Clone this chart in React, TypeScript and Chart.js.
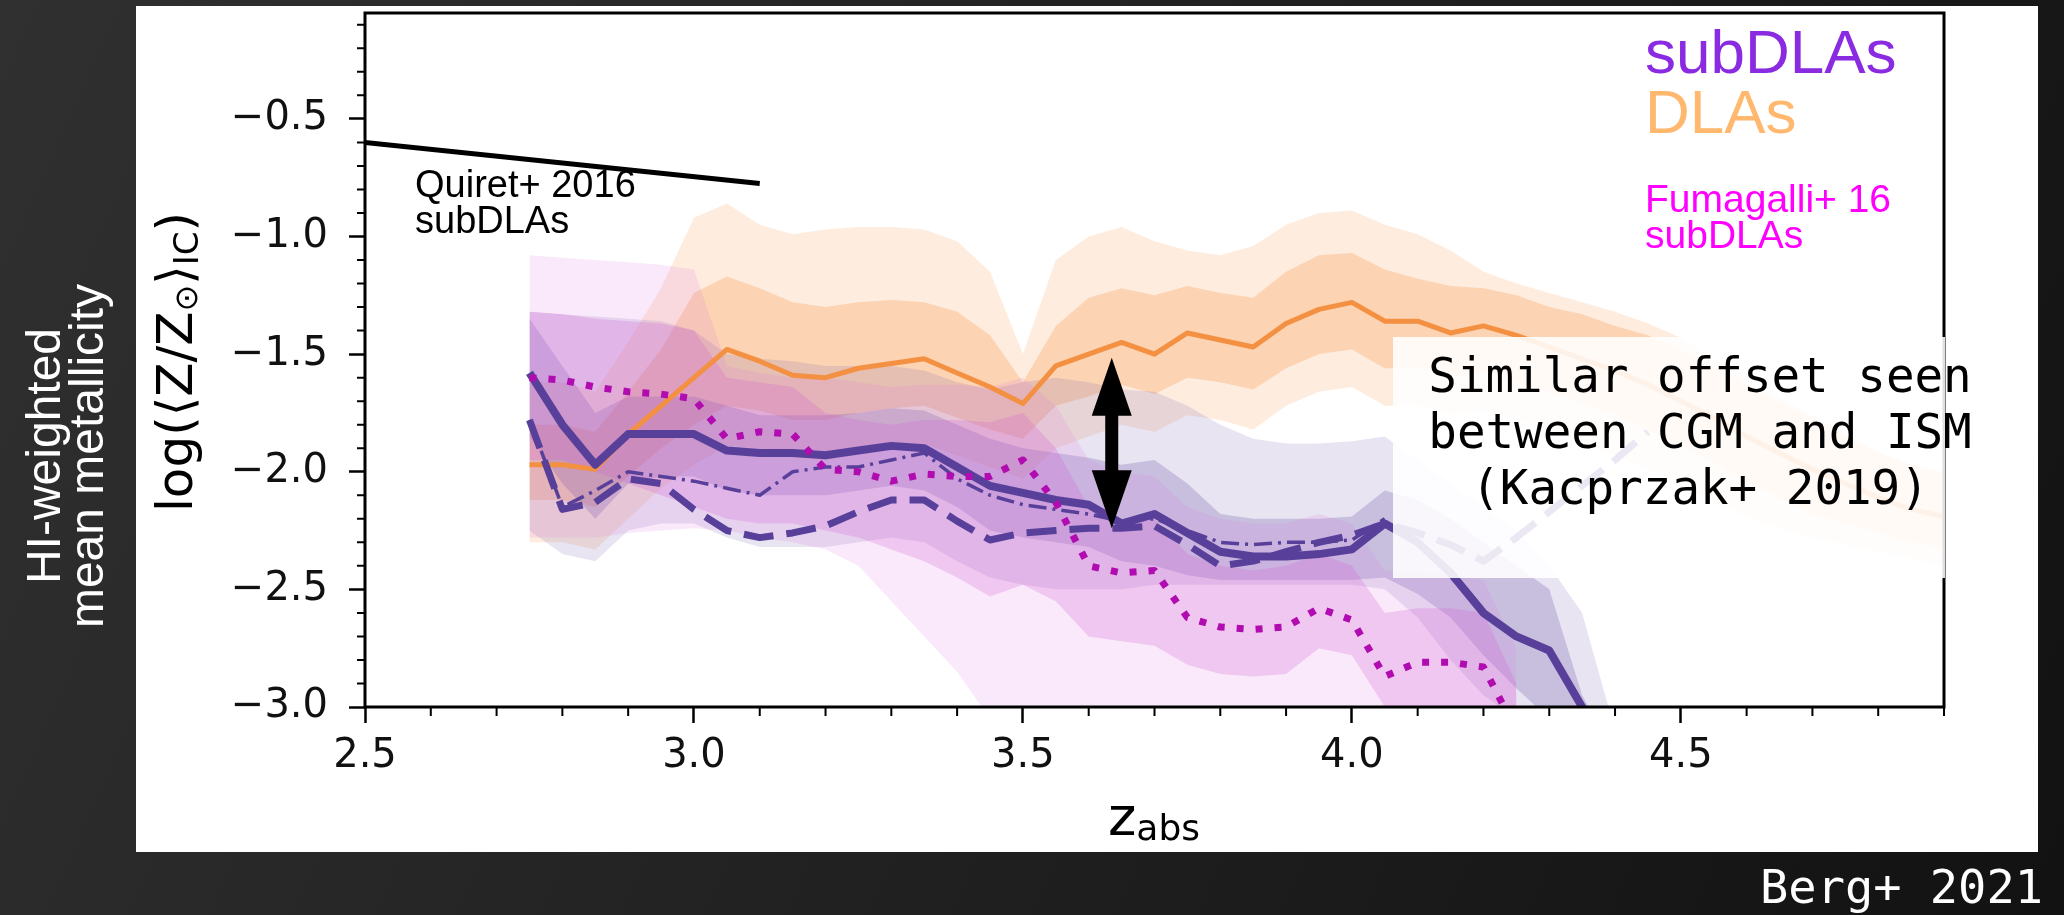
import React, { useEffect, useRef } from 'react';
import { Chart, registerables } from 'chart.js';

Chart.register(...registerables);

const W = 2064;
const H = 915;

// redshift grid (z_abs)
const Z = [2.75, 2.80, 2.85, 2.90, 2.95, 3.00, 3.05, 3.10, 3.15, 3.20, 3.25, 3.30, 3.35, 3.40, 3.45, 3.50, 3.55, 3.60, 3.65, 3.70, 3.75, 3.80, 3.85, 3.90, 3.95, 4.00, 4.05, 4.10, 4.15, 4.20, 4.25, 4.30, 4.35, 4.40, 4.45, 4.50, 4.55, 4.60, 4.65, 4.70, 4.75, 4.80, 4.85, 4.90];

// DLAs (orange)
const DLA_LINE = [-1.97, -1.97, -1.99, -1.84, -1.72, -1.60, -1.48, -1.53, -1.59, -1.60, -1.56, -1.54, -1.52, -1.58, -1.64, -1.71, -1.55, -1.50, -1.45, -1.50, -1.41, -1.44, -1.47, -1.37, -1.31, -1.28, -1.36, -1.36, -1.41, -1.38, -1.42, -1.47, -1.52, -1.57, -1.63, -1.70, -1.77, -1.85, -1.92, -1.99, -2.05, -2.11, -2.16, -2.19];
const DLA_IN_HI = [-1.80, -1.80, -1.83, -1.66, -1.48, -1.24, -1.17, -1.22, -1.28, -1.30, -1.28, -1.27, -1.28, -1.32, -1.42, -1.62, -1.38, -1.26, -1.22, -1.25, -1.21, -1.24, -1.26, -1.15, -1.08, -1.07, -1.14, -1.18, -1.21, -1.22, -1.25, -1.30, -1.33, -1.38, -1.42, -1.48, -1.55, -1.63, -1.70, -1.77, -1.85, -1.92, -1.97, -2.00];
const DLA_IN_LO = [-2.12, -2.12, -2.15, -2.02, -1.90, -1.80, -1.72, -1.74, -1.78, -1.78, -1.75, -1.73, -1.72, -1.77, -1.82, -1.86, -1.72, -1.68, -1.63, -1.67, -1.60, -1.62, -1.65, -1.56, -1.50, -1.48, -1.56, -1.56, -1.60, -1.58, -1.62, -1.66, -1.71, -1.76, -1.82, -1.89, -1.96, -2.04, -2.11, -2.18, -2.22, -2.26, -2.30, -2.32];
const DLA_OUT_HI = [-1.62, -1.62, -1.66, -1.45, -1.22, -0.92, -0.86, -0.95, -0.99, -0.97, -0.96, -0.96, -0.97, -1.02, -1.15, -1.50, -1.10, -1.00, -0.96, -1.02, -1.06, -1.08, -1.04, -0.95, -0.90, -0.89, -0.95, -0.99, -1.06, -1.15, -1.20, -1.24, -1.28, -1.32, -1.37, -1.43, -1.52, -1.60, -1.68, -1.76, -1.84, -1.91, -1.97, -2.01];
const DLA_OUT_LO = [-2.30, -2.30, -2.33, -2.20, -2.07, -1.97, -1.89, -1.90, -1.94, -1.95, -1.92, -1.90, -1.88, -1.93, -1.98, -2.03, -1.90, -1.85, -1.80, -1.83, -1.76, -1.78, -1.82, -1.72, -1.66, -1.64, -1.72, -1.72, -1.76, -1.74, -1.78, -1.83, -1.88, -1.93, -1.99, -2.06, -2.13, -2.19, -2.24, -2.28, -2.31, -2.34, -2.37, -2.40];

// subDLAs (purple)
const SUB_SOLID = [-1.58, -1.80, -1.97, -1.84, -1.84, -1.84, -1.91, -1.92, -1.92, -1.93, -1.91, -1.89, -1.90, -1.98, -2.06, -2.09, -2.12, -2.14, -2.22, -2.18, -2.26, -2.34, -2.36, -2.36, -2.35, -2.33, -2.22, -2.30, -2.43, -2.60, -2.70, -2.76, -3.00, -3.25, null, null, null, null, null, null, null, null, null, null];
const SUB_DASHED = [-1.78, -2.16, -2.13, -2.03, -2.05, -2.16, -2.25, -2.28, -2.26, -2.23, -2.17, -2.12, -2.12, -2.21, -2.29, -2.26, -2.25, -2.24, -2.24, -2.23, -2.31, -2.40, -2.38, -2.34, -2.30, -2.27, -2.22, -2.26, -2.31, -2.38, -2.28, -2.17, -2.06, -1.95, -1.83, null, null, null, null, null, null, null, null, null];
const SUB_DASHDOT = [-1.78, -2.15, -2.08, -2.00, -2.02, -2.04, -2.07, -2.10, -2.00, -1.98, -1.98, -1.95, -1.92, -2.03, -2.10, -2.14, -2.16, -2.18, -2.21, -2.20, -2.25, -2.30, -2.31, -2.30, -2.30, -2.29, -2.20, null, null, null, null, null, null, null, null, null, null, null, null, null, null, null, null, null];
const SUB_IN_HI = [-1.35, -1.55, -1.75, -1.68, -1.68, -1.68, -1.72, -1.76, -1.76, -1.76, -1.75, -1.73, -1.74, -1.80, -1.86, -1.90, -1.92, -1.94, -1.97, -1.95, -2.05, -2.18, -2.20, -2.20, -2.20, -2.19, -2.08, -2.12, -2.20, -2.30, -2.40, -2.50, -2.95, -3.20, null, null, null, null, null, null, null, null, null, null];
const SUB_IN_LO = [-1.85, -2.05, -2.20, -2.05, -2.02, -2.02, -2.08, -2.10, -2.10, -2.10, -2.08, -2.06, -2.08, -2.15, -2.25, -2.28, -2.30, -2.32, -2.38, -2.40, -2.44, -2.46, -2.46, -2.46, -2.46, -2.46, -2.45, -2.52, -2.62, -2.78, -2.92, -3.05, -3.20, -3.40, null, null, null, null, null, null, null, null, null, null];
const SUB_OUT_HI = [-1.32, -1.33, -1.34, -1.35, -1.36, -1.40, -1.50, -1.52, -1.53, -1.55, -1.55, -1.55, -1.57, -1.62, -1.65, -1.62, -1.60, -1.62, -1.65, -1.66, -1.72, -1.80, -1.86, -1.88, -1.88, -1.87, -1.85, -1.95, -2.05, -2.15, -2.25, -2.40, -2.60, -3.10, -3.30, null, null, null, null, null, null, null, null, null];
const SUB_OUT_LO = [-2.25, -2.35, -2.38, -2.25, -2.22, -2.22, -2.28, -2.32, -2.32, -2.32, -2.30, -2.28, -2.30, -2.38, -2.45, -2.48, -2.50, -2.50, -2.50, -2.48, -2.48, -2.48, -2.48, -2.48, -2.48, -2.48, -2.50, -2.62, -2.80, -2.95, -3.05, -3.15, -3.30, -3.40, -3.50, null, null, null, null, null, null, null, null, null];

// Fumagalli+16 subDLAs (magenta)
const FUM_DOTTED = [-1.60, -1.61, -1.64, -1.66, -1.67, -1.69, -1.86, -1.83, -1.84, -1.99, -2.00, -2.04, -2.01, -2.02, -2.02, -1.95, -2.13, -2.40, -2.43, -2.42, -2.62, -2.66, -2.67, -2.66, -2.58, -2.63, -2.87, -2.81, -2.81, -2.83, -3.10, null, null, null, null, null, null, null, null, null, null, null, null, null];
const FUM_IN_HI = [-1.32, -1.33, -1.35, -1.36, -1.37, -1.40, -1.60, -1.62, -1.64, -1.75, -1.78, -1.80, -1.78, -1.78, -1.79, -1.75, -1.90, -2.15, -2.20, -2.20, -2.35, -2.40, -2.42, -2.40, -2.35, -2.40, -2.60, -2.58, -2.58, -2.60, -2.90, null, null, null, null, null, null, null, null, null, null, null, null, null];
const FUM_IN_LO = [-1.95, -1.95, -2.00, -2.05, -2.10, -2.15, -2.20, -2.22, -2.22, -2.25, -2.28, -2.33, -2.38, -2.45, -2.53, -2.48, -2.55, -2.70, -2.72, -2.74, -2.82, -2.86, -2.87, -2.86, -2.75, -2.78, -3.00, -3.05, -3.05, -3.08, -3.30, null, null, null, null, null, null, null, null, null, null, null, null, null];
const FUM_OUT_HI = [-1.08, -1.09, -1.10, -1.11, -1.12, -1.14, -1.55, -1.58, -1.60, -1.60, -1.62, -1.64, -1.63, -1.63, -1.64, -1.60, -1.72, -1.95, -2.00, -2.02, -2.15, -2.20, -2.22, -2.22, -2.18, -2.22, -2.42, -2.42, -2.44, -2.46, -2.75, null, null, null, null, null, null, null, null, null, null, null, null, null];
const FUM_OUT_LO = [-2.28, -2.28, -2.28, -2.26, -2.25, -2.24, -2.25, -2.28, -2.30, -2.33, -2.40, -2.55, -2.70, -2.85, -3.05, -3.10, -3.10, -3.10, -3.10, -3.10, -3.10, -3.10, -3.10, -3.10, -3.10, -3.10, -3.10, -3.10, -3.10, -3.10, -3.20, null, null, null, null, null, null, null, null, null, null, null, null, null];

// Quiret+2016 subDLAs relation
const QUIRET_Z = [2.5, 3.10];
const QUIRET_V = [-0.60, -0.775];

// double arrow (data coordinates)
const ARROW_Z = 3.635;
const ARROW_TOP = -1.515;
const ARROW_BOTTOM = -2.24;

// ticks
const X_MAJOR = [2.5, 3.0, 3.5, 4.0, 4.5];
const X_MINOR = [2.6, 2.7, 2.8, 2.9, 3.1, 3.2, 3.3, 3.4, 3.6, 3.7, 3.8, 3.9, 4.1, 4.2, 4.3, 4.4, 4.6, 4.7, 4.8, 4.9];
const Y_MAJOR = [-3.0, -2.5, -2.0, -1.5, -1.0, -0.5];
const Y_MINOR = [-2.9, -2.8, -2.7, -2.6, -2.4, -2.3, -2.2, -2.1, -1.9, -1.8, -1.7, -1.6, -1.4, -1.3, -1.2, -1.1, -0.9, -0.8, -0.7, -0.6, -0.4, -0.3, -0.2, -0.1];

const NOTE_LINES = ['Similar offset seen', 'between CGM and ISM', '(Kacprzak+ 2019)'];
const SIDE_LINES = ['HI-weighted', 'mean metallicity'];

const SANS = "'Liberation Sans', Arial, sans-serif";
const DV = "'DejaVu Sans', sans-serif";
const MONO = "'DejaVu Sans Mono', monospace";

const pts = (arr: (number | null)[]) =>
  Z.map((x, i) => ({ x, y: arr[i] })).filter((p) => p.y !== null);

const lineDs = (data: (number | null)[], color: string, width: number, dash: number[], order: number) => ({
  data: pts(data),
  borderColor: color,
  borderWidth: width,
  borderDash: dash,
  borderCapStyle: 'butt',
  borderJoinStyle: 'round',
  pointRadius: 0,
  fill: false,
  tension: 0,
  order,
  clip: 0,
});
const bandLo = (data: (number | null)[], order: number) => ({
  data: pts(data),
  borderWidth: 0,
  borderColor: 'rgba(0,0,0,0)',
  pointRadius: 0,
  fill: false,
  order,
  clip: 0,
});
const bandHi = (data: (number | null)[], color: string, order: number) => ({
  data: pts(data),
  borderWidth: 0,
  borderColor: 'rgba(0,0,0,0)',
  backgroundColor: color,
  pointRadius: 0,
  fill: '-1',
  order,
  clip: 0,
});

const fmt = (v: number) => v.toFixed(1).replace('-', '\u2212');

const deco = {
  id: 'deco',
  beforeDraw(chart: any) {
    const { ctx } = chart;
    ctx.save();
    const g = ctx.createLinearGradient(0, 0, W, H);
    g.addColorStop(0, '#303030');
    g.addColorStop(1, '#121212');
    ctx.fillStyle = g;
    ctx.fillRect(0, 0, W, H);
    ctx.fillStyle = '#ffffff';
    ctx.fillRect(136, 6, 1902, 846);
    ctx.restore();
  },
  afterDatasetsDraw(chart: any) {
    const { ctx, chartArea: a, scales } = chart;
    const xs = scales.x;
    const ys = scales.y;
    ctx.save();
    ctx.strokeStyle = '#000';
    ctx.lineWidth = 2;
    ctx.beginPath();
    for (const v of X_MINOR) {
      const px = xs.getPixelForValue(v);
      ctx.moveTo(px, a.bottom);
      ctx.lineTo(px, a.bottom + 9);
    }
    for (const v of Y_MINOR) {
      const py = ys.getPixelForValue(v);
      ctx.moveTo(a.left - 8, py);
      ctx.lineTo(a.left, py);
    }
    ctx.stroke();
    ctx.lineWidth = 3;
    ctx.strokeRect(a.left, a.top, a.right - a.left, a.bottom - a.top);
    ctx.restore();
  },
  afterDraw(chart: any) {
    const { ctx, scales } = chart;
    const xs = scales.x;
    const ys = scales.y;
    ctx.save();

    // y-axis title (rotated)
    ctx.save();
    ctx.translate(192, 362);
    ctx.rotate(-Math.PI / 2);
    ctx.fillStyle = '#000';
    ctx.textBaseline = 'alphabetic';
    const parts = [
      { t: 'log(\u27E8Z/Z', f: 50, dy: 0 },
      { t: '\u2299', f: 32, dy: 5 },
      { t: '\u27E9', f: 50, dy: 0 },
      { t: 'IC', f: 34, dy: 6 },
      { t: ')', f: 50, dy: 0 },
    ];
    let total = 0;
    for (const p of parts) {
      ctx.font = `${p.f}px ${DV}`;
      total += ctx.measureText(p.t).width;
    }
    let cx = -total / 2;
    for (const p of parts) {
      ctx.font = `${p.f}px ${DV}`;
      ctx.fillText(p.t, cx, p.dy);
      cx += ctx.measureText(p.t).width;
    }
    ctx.restore();

    // x-axis title
    ctx.fillStyle = '#000';
    ctx.textAlign = 'left';
    ctx.textBaseline = 'alphabetic';
    ctx.font = `54px ${DV}`;
    ctx.fillText('z', 1108, 835);
    const zw = ctx.measureText('z').width;
    ctx.font = `36px ${DV}`;
    ctx.fillText('abs', 1108 + zw, 840);

    // Quiret label
    ctx.font = `38px ${SANS}`;
    ctx.fillText('Quiret+ 2016', 415, 197);
    ctx.fillText('subDLAs', 415, 233);

    // legend-like labels
    ctx.font = `62px ${SANS}`;
    ctx.fillStyle = '#8a2be2';
    ctx.fillText('subDLAs', 1645, 73);
    ctx.fillStyle = '#ffb86e';
    ctx.fillText('DLAs', 1645, 133);
    ctx.font = `39px ${SANS}`;
    ctx.fillStyle = '#ff00ff';
    ctx.fillText('Fumagalli+ 16', 1645, 212);
    ctx.fillText('subDLAs', 1645, 248);

    // note box
    ctx.fillStyle = 'rgba(255,255,255,0.88)';
    ctx.fillRect(1393, 337, 552, 241);
    ctx.fillStyle = '#000';
    ctx.font = `47.5px ${MONO}`;
    ctx.textAlign = 'center';
    NOTE_LINES.forEach((s, i) => ctx.fillText(s, 1700, 392 + i * 56));

    // double arrow
    const ax = xs.getPixelForValue(ARROW_Z);
    const y1 = ys.getPixelForValue(ARROW_TOP);
    const y2 = ys.getPixelForValue(ARROW_BOTTOM);
    const hl = 58;
    const hw = 20;
    ctx.fillStyle = '#000';
    ctx.fillRect(ax - 6.5, y1 + hl - 2, 13, y2 - y1 - 2 * hl + 4);
    ctx.beginPath();
    ctx.moveTo(ax, y1);
    ctx.lineTo(ax + hw, y1 + hl);
    ctx.lineTo(ax - hw, y1 + hl);
    ctx.closePath();
    ctx.fill();
    ctx.beginPath();
    ctx.moveTo(ax, y2);
    ctx.lineTo(ax + hw, y2 - hl);
    ctx.lineTo(ax - hw, y2 - hl);
    ctx.closePath();
    ctx.fill();

    // left side white text
    ctx.save();
    ctx.fillStyle = '#ffffff';
    ctx.font = `48px ${SANS}`;
    ctx.textAlign = 'center';
    ctx.translate(60, 456);
    ctx.rotate(-Math.PI / 2);
    ctx.fillText(SIDE_LINES[0], 0, 0);
    ctx.fillText(SIDE_LINES[1], 0, 43);
    ctx.restore();

    // credit
    ctx.fillStyle = '#ffffff';
    ctx.font = `47px ${MONO}`;
    ctx.textAlign = 'right';
    ctx.fillText('Berg+ 2021', 2043, 903);

    ctx.restore();
  },
};

export default function App() {
  const ref = useRef<HTMLCanvasElement>(null);
  useEffect(() => {
    document.body.style.margin = '0';
    const datasets: any[] = [
      lineDs(FUM_DOTTED, '#b00cb0', 7, [7, 12], 1),
      lineDs(SUB_SOLID, '#58409a', 8, [], 2),
      lineDs(SUB_DASHED, '#58409a', 7, [30, 13], 2),
      lineDs(SUB_DASHDOT, '#58409a', 3.5, [18, 6, 3, 6], 2),
      lineDs(DLA_LINE, '#f39042', 5, [], 3),
      {
        data: QUIRET_Z.map((x, i) => ({ x, y: QUIRET_V[i] })),
        borderColor: '#000',
        borderWidth: 5,
        pointRadius: 0,
        fill: false,
        order: 3,
        clip: 0,
      },
      bandLo(DLA_OUT_LO, 20),
      bandHi(DLA_OUT_HI, 'rgba(250,160,90,0.20)', 20),
      bandLo(DLA_IN_LO, 19),
      bandHi(DLA_IN_HI, 'rgba(250,160,90,0.32)', 19),
      bandLo(SUB_OUT_LO, 18),
      bandHi(SUB_OUT_HI, 'rgba(120,95,175,0.17)', 18),
      bandLo(SUB_IN_LO, 17),
      bandHi(SUB_IN_HI, 'rgba(110,85,170,0.26)', 17),
      bandLo(FUM_OUT_LO, 16),
      bandHi(FUM_OUT_HI, 'rgba(225,120,225,0.16)', 16),
      bandLo(FUM_IN_LO, 15),
      bandHi(FUM_IN_HI, 'rgba(210,90,210,0.24)', 15),
    ];
    const chart = new Chart(ref.current as HTMLCanvasElement, {
      type: 'line',
      data: { datasets },
      options: {
        responsive: false,
        animation: false,
        devicePixelRatio: 1,
        layout: { autoPadding: false, padding: { left: 0, right: 120, top: 13, bottom: 0 } },
        plugins: { legend: { display: false }, tooltip: { enabled: false } },
        scales: {
          x: {
            type: 'linear',
            min: 2.5,
            max: 4.9,
            afterFit: (s: any) => {
              s.height = 208;
              s.paddingLeft = 0;
              s.paddingRight = 0;
            },
            afterBuildTicks: (s: any) => {
              s.ticks = X_MAJOR.map((v) => ({ value: v }));
            },
            ticks: {
              callback: (v: any) => Number(v).toFixed(1),
              font: { family: DV, size: 40 },
              color: '#111',
              padding: 10,
              maxRotation: 0,
              autoSkip: false,
            },
            grid: { display: true, drawOnChartArea: false, drawTicks: true, tickLength: 16, tickWidth: 2.5, tickColor: '#000' },
            border: { display: false },
          },
          y: {
            type: 'linear',
            min: -3.0,
            max: -0.05,
            afterFit: (s: any) => {
              s.width = 365;
              s.paddingTop = 0;
              s.paddingBottom = 0;
            },
            afterBuildTicks: (s: any) => {
              s.ticks = Y_MAJOR.map((v) => ({ value: v }));
            },
            ticks: {
              callback: (v: any) => fmt(Number(v)),
              font: { family: DV, size: 40 },
              color: '#111',
              padding: 21,
              autoSkip: false,
            },
            grid: { display: true, drawOnChartArea: false, drawTicks: true, tickLength: 16, tickWidth: 2.5, tickColor: '#000' },
            border: { display: false },
          },
        },
      },
      plugins: [deco],
    } as any);
    return () => chart.destroy();
  }, []);
  return (
    <div style={{ position: 'fixed', left: 0, top: 0, width: W, height: H, background: '#1e1e1e' }}>
      <canvas ref={ref} width={W} height={H} style={{ display: 'block', width: W, height: H }} />
    </div>
  );
}
